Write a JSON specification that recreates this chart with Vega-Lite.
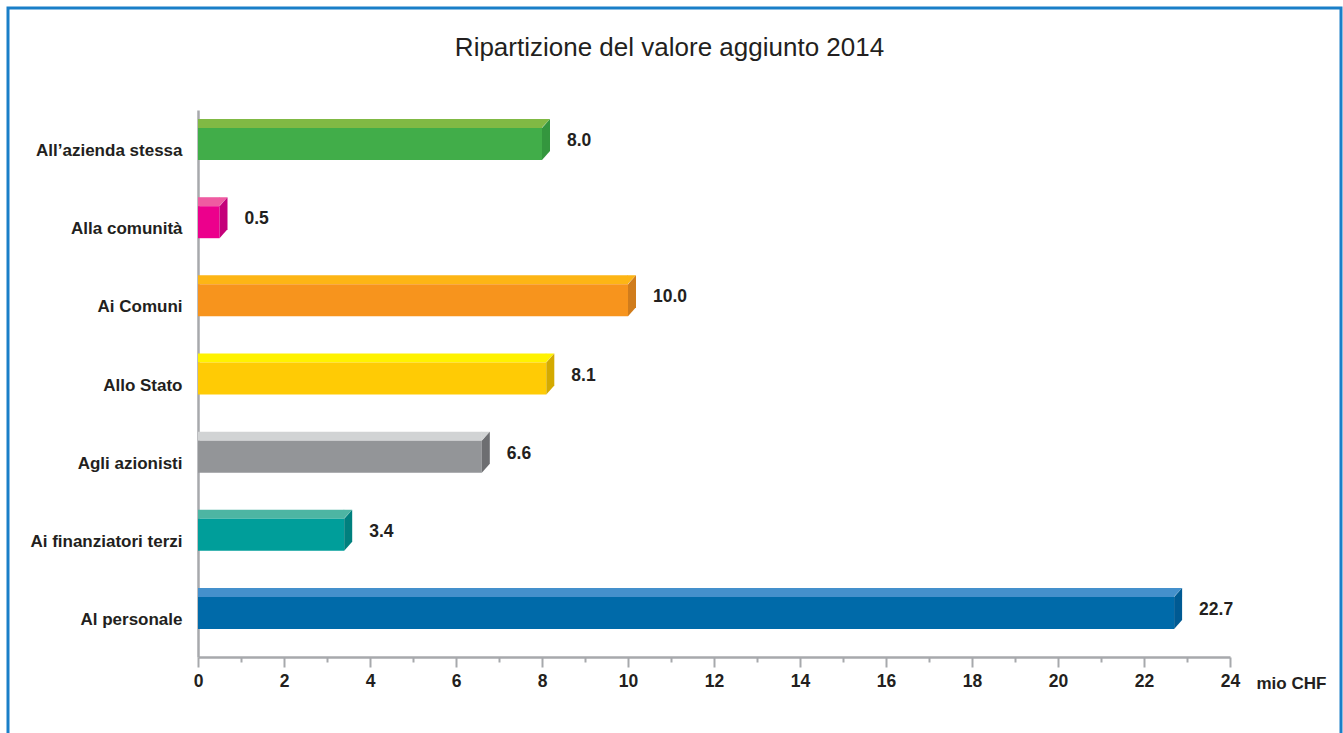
{
  "$schema": "https://vega.github.io/schema/vega-lite/v6.json",
  "width": 1333,
  "height": 740,
  "autosize": {"type": "none"},
  "padding": {"left": 8, "top": 8, "right": 2, "bottom": 0},
  "background": "white",
  "config": {
    "view": {"stroke": "#1a7fc8", "strokeWidth": 3},
    "font": "Liberation Sans"
  },
  "title": {
    "text": "Ripartizione del valore aggiunto 2014",
    "fontSize": 26,
    "fontWeight": "normal",
    "font": "Liberation Sans",
    "color": "#231f20",
    "anchor": "middle",
    "frame": "group",
    "offset": -53,
    "dx": -5
  },
  "data": {
    "values": [
      {"cat": "All’azienda stessa", "value": 8.0},
      {"cat": "Alla comunità", "value": 0.5},
      {"cat": "Ai Comuni", "value": 10.0},
      {"cat": "Allo Stato", "value": 8.1},
      {"cat": "Agli azionisti", "value": 6.6},
      {"cat": "Ai finanziatori terzi", "value": 3.4},
      {"cat": "Al personale", "value": 22.7}
    ]
  },
  "encoding": {
    "y": {
      "field": "cat",
      "type": "nominal",
      "sort": null,
      "scale": {"range": [102, 649], "paddingInner": 0, "paddingOuter": 0},
      "axis": {
        "title": null,
        "orient": "left",
        "offset": -190,
        "ticks": false,
        "domainColor": "#a7a9ac",
        "domainWidth": 2.5,
        "labelPadding": 16,
        "labelFontSize": 17,
        "labelFontWeight": "bold",
        "labelFont": "Liberation Sans",
        "labelColor": "#231f20",
        "labelOffset": 2
      }
    }
  },
  "layer": [
    {
      "mark": {"type": "bar", "size": 9, "yOffset": -25.5},
      "encoding": {
        "x": {
          "field": "value",
          "type": "quantitative",
          "scale": {"domain": [0, 24], "range": [190, 1222], "nice": false},
          "axis": {
            "orient": "bottom",
            "offset": -91,
            "values": [0,1,2,3,4,5,6,7,8,9,10,11,12,13,14,15,16,17,18,19,20,21,22,23,24],
            "format": "d",
            "labelExpr": "datum.value % 2 == 0 ? datum.label : ''",
            "grid": false,
            "tickSize": {"condition": {"test": "datum.value % 2 == 0", "value": 10}, "value": 5},
            "tickColor": "#a7a9ac",
            "tickWidth": 2,
            "domainColor": "#a7a9ac",
            "domainWidth": 2.5,
            "labelFontSize": 17.5,
            "labelFontWeight": "bold",
            "labelFont": "Liberation Sans",
            "labelColor": "#231f20",
            "labelPadding": 5,
            "labelFlush": false,
            "title": "mio CHF",
            "titleFont": "Liberation Sans",
            "titleFontSize": 17,
            "titleFontWeight": "bold",
            "titleColor": "#231f20",
            "titleAlign": "left",
            "titleBaseline": "middle",
            "titleAnchor": null,
            "titleX": 1248,
            "titleY": 26
          }
        },
        "color": {
          "field": "cat",
          "type": "nominal",
          "legend": null,
          "scale": {
            "domain": ["All’azienda stessa", "Alla comunità", "Ai Comuni", "Allo Stato", "Agli azionisti", "Ai finanziatori terzi", "Al personale"],
            "range": ["#80b944", "#ef5ba1", "#fdb515", "#fff200", "#d1d3d4", "#4db5a3", "#4490cc"]
          }
        }
      }
    },
    {
      "mark": {"type": "bar", "size": 32, "yOffset": -5},
      "encoding": {
        "x": {"field": "value", "type": "quantitative"},
        "color": {
          "field": "cat",
          "type": "nominal",
          "legend": null,
          "scale": {
            "domain": ["All’azienda stessa", "Alla comunità", "Ai Comuni", "Allo Stato", "Agli azionisti", "Ai finanziatori terzi", "Al personale"],
            "range": ["#41ad49", "#ec008c", "#f7941d", "#ffcb05", "#939598", "#009e9a", "#006aa9"]
          }
        }
      }
    },
    {
      "mark": {"type": "point", "shape": "M-0.5,-21 L8,-30 L-0.5,-30 Z", "size": 4, "filled": true, "opacity": 1, "strokeWidth": 0},
      "encoding": {
        "x": {"field": "value", "type": "quantitative"},
        "color": {
          "field": "cat",
          "type": "nominal",
          "legend": null,
          "scale": {
            "domain": ["All’azienda stessa", "Alla comunità", "Ai Comuni", "Allo Stato", "Agli azionisti", "Ai finanziatori terzi", "Al personale"],
            "range": ["#80b944", "#ef5ba1", "#fdb515", "#fff200", "#d1d3d4", "#4db5a3", "#4490cc"]
          }
        }
      }
    },
    {
      "mark": {"type": "point", "shape": "M0,-21 L8,-30 L8,2 L0,11 Z", "size": 4, "filled": true, "opacity": 1, "strokeWidth": 0},
      "encoding": {
        "x": {"field": "value", "type": "quantitative"},
        "color": {
          "field": "cat",
          "type": "nominal",
          "legend": null,
          "scale": {
            "domain": ["All’azienda stessa", "Alla comunità", "Ai Comuni", "Allo Stato", "Agli azionisti", "Ai finanziatori terzi", "Al personale"],
            "range": ["#34963e", "#c4007a", "#d07c1c", "#d4aa00", "#6d6e71", "#00807e", "#005a93"]
          }
        }
      }
    },
    {
      "mark": {"type": "text", "align": "left", "baseline": "middle", "dx": 25, "yOffset": -8, "fontSize": 17.5, "fontWeight": "bold", "font": "Liberation Sans", "color": "#231f20"},
      "encoding": {
        "x": {"field": "value", "type": "quantitative"},
        "text": {"field": "value", "type": "quantitative", "format": ".1f"}
      }
    }
  ],
  "resolve": {"scale": {"color": "independent"}}
}
